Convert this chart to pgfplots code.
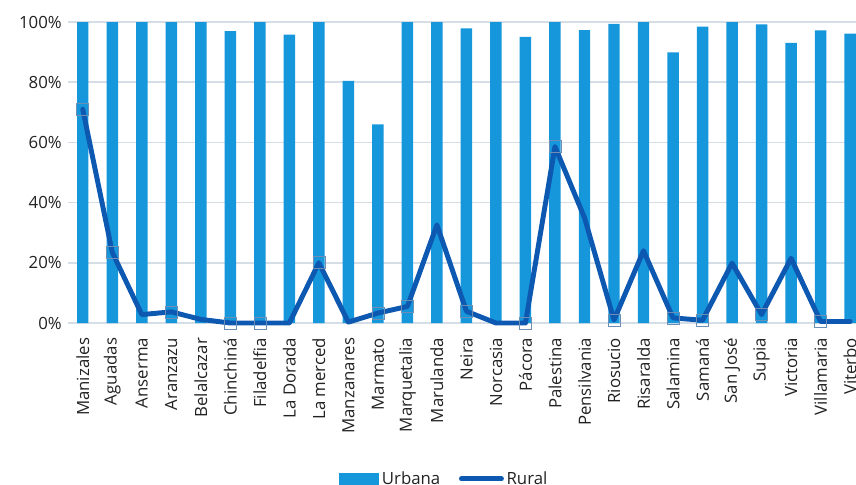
\documentclass[border=0pt]{standalone}
\usepackage{pgfplots}
\pgfplotsset{compat=1.18}
\usepackage{pgfplotstable}
\usepackage{fontspec}
\setmainfont{Open Sans}

\definecolor{urb}{HTML}{1697DC}
\definecolor{rur}{HTML}{0D58B0}
\definecolor{grd}{HTML}{D5DEE6}
\definecolor{hdl}{HTML}{6E8FB5}
\definecolor{txt}{HTML}{222222}

% idx urbana rural
\pgfplotstableread{
idx urbana rural
0  100  71
1  100  23.5
2  100  2.8
3  100  3.7
4  100  1.2
5  97.0 0
6  100  0
7  95.8 0
8  100  20
9  80.4 0.3
10 66.0 3.3
11 100  5.5
12 100  32.6
13 97.9 3.9
14 100  0
15 95.1 0
16 100  58.6
17 97.3 35
18 99.4 1
19 100  24
20 89.9 1.7
21 98.5 0.9
22 100  19.9
23 99.2 2.8
24 93.1 21.5
25 97.2 0.5
26 96.1 0.5
}\datatable

\begin{document}
\begin{tikzpicture}
\path[use as bounding box] (0pt,0pt) rectangle (642pt,-363.75pt);
\begin{axis}[
  at={(51pt,-242.25pt)}, anchor=south west,
  scale only axis, width=591pt, height=225.75pt,
  xmin=-0.5, xmax=26.2, ymin=0, ymax=100,
  clip=false,
  axis line style={draw=none},
  tick style={draw=none},
  ymajorgrids, major grid style={grd, line width=1.1pt},
  ytick={0,20,...,100},
  yticklabel={\pgfmathprintnumber{\tick}\%},
  yticklabel style={anchor=east, inner sep=0pt, xshift=-4.5pt},
  xtick={0,...,26},
  xticklabels={Manizales, Aguadas, Anserma, Aranzazu, Belalcazar, Chinchiná, Filadelfia, La Dorada, La merced, Manzanares, Marmato, Marquetalia, Marulanda, Neira, Norcasia, Pácora, Palestina, Pensilvania, Riosucio, Risaralda, Salamina, Samaná, San José, Supia, Victoria, Villamaria, Viterbo},
  xticklabel style={rotate=90, anchor=east, inner sep=0pt},
  xticklabel shift=11pt,
  /pgf/number format/assume math mode=true,
  ticklabel style={font=\fontsize{12.6}{14}\selectfont, text=txt},
  legend columns=2,
  legend style={at={(rel axis cs:0.478,-0.518)}, anchor=center, draw=none, fill=none,
    font=\fontsize{12.6}{14}\selectfont, text=txt,
    /tikz/every even column/.append style={column sep=12pt}},
]
\addplot[ybar, bar width=8.6pt, fill=urb, draw=none,
  legend image code/.code={\fill[urb] (0pt,-4.5pt) rectangle (30pt,4.5pt);}]
  table[x=idx, y=urbana] {\datatable};
\addlegendentry{Urbana}
\addplot[rur, line width=3.7pt, line join=round, line cap=round, mark=none,
  legend image code/.code={\draw[rur, line width=3.7pt, line cap=round] (0pt,0pt) -- (30pt,0pt);}]
  table[x=idx, y=rural] {\datatable};
\addlegendentry{Rural}
\addplot[only marks, mark=square, mark size=4.5pt, mark options={draw=hdl, line width=0.5pt}, forget plot]
  coordinates {(0,71) (1,23.5) (3,3.7) (5,0) (6,0) (8,20) (10,3.3) (11,5.5) (13,3.9) (15,0) (16,58.6) (18,1) (20,1.7) (21,0.9) (23,2.8) (25,0.5)};
\end{axis}
\end{tikzpicture}
\end{document}
